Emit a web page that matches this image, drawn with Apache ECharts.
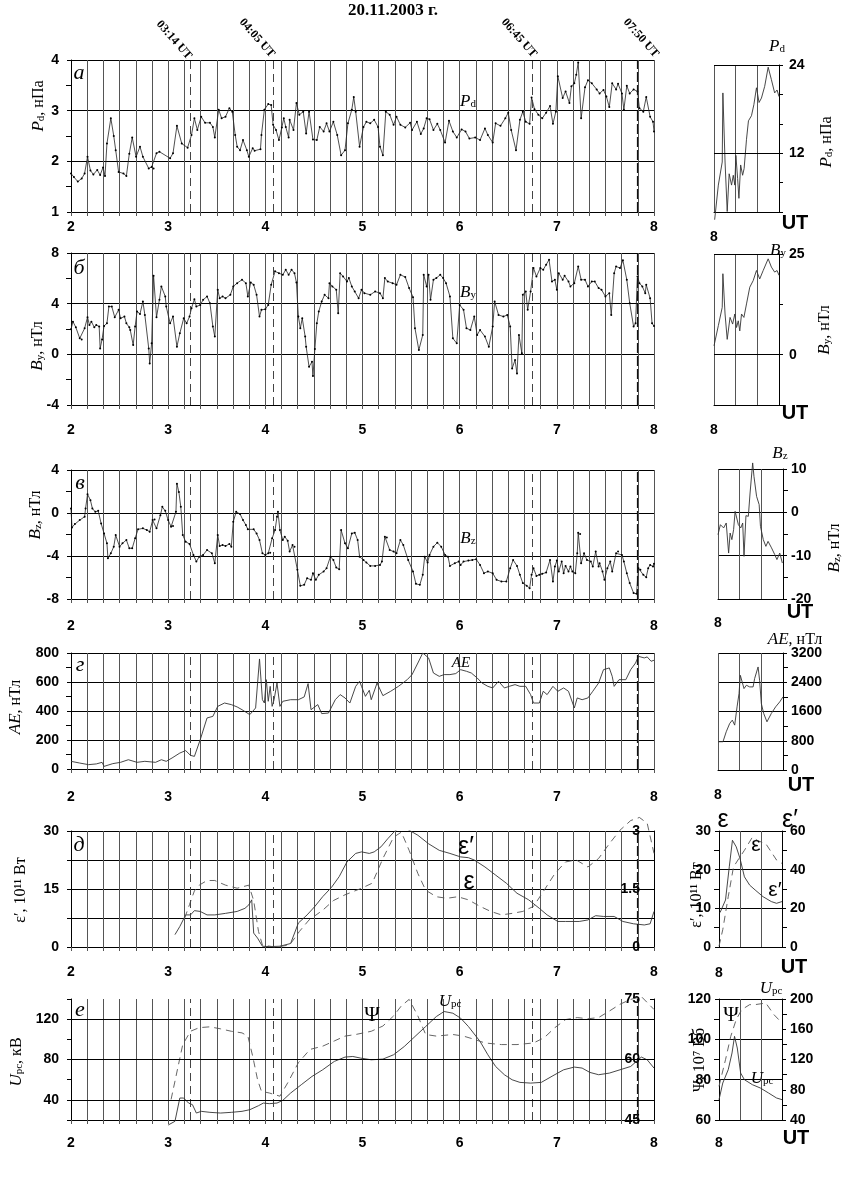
<!DOCTYPE html>
<html>
<head>
<meta charset="utf-8">
<script src="https://cdn.jsdelivr.net/npm/echarts@6/dist/echarts.min.js"></script>
<style>
html, body { margin: 0; padding: 0; background: #fff; }
#chart { width: 846px; height: 1182px; }
</style>
</head>
<body>
<div id="chart"></div>
<script>
// моменты событий (UT, ч)
const eventTimes = [3.233, 4.083, 6.75, 7.833]
const eventLabels = ['03:14 UT', '04:05 UT', '06:45 UT', '07:50 UT']

// Pd, нПа
const pdMain = [[2.00,1.76],[2.03,1.69],[2.07,1.60],[2.11,1.66],[2.14,1.76],[2.17,2.09],[2.20,1.82],[2.23,1.74],[2.27,1.83],[2.30,1.73],[2.33,1.88],[2.35,1.71],[2.37,2.35],[2.41,2.85],[2.44,2.50],[2.46,2.22],[2.49,1.79],[2.54,1.76],[2.57,1.71],[2.60,2.15],[2.63,2.47],[2.67,2.09],[2.71,2.29],[2.74,2.09],[2.80,1.86],[2.83,1.89],[2.85,1.86],[2.88,2.16],[2.91,2.19],[3.02,2.06],[3.05,2.16],[3.09,2.70],[3.14,2.35],[3.20,2.27],[3.24,2.52],[3.27,2.85],[3.30,2.62],[3.34,2.88],[3.38,2.76],[3.43,2.76],[3.46,2.68],[3.48,2.47],[3.52,3.02],[3.55,2.85],[3.59,2.88],[3.63,3.05],[3.66,2.98],[3.69,2.52],[3.71,2.29],[3.74,2.22],[3.77,2.42],[3.81,2.22],[3.83,2.09],[3.87,2.26],[3.89,2.21],[3.95,2.24],[3.96,2.52],[3.99,3.02],[4.03,3.13],[4.06,3.11],[4.08,2.72],[4.11,2.62],[4.14,2.42],[4.17,2.67],[4.19,2.85],[4.21,2.68],[4.24,2.47],[4.25,2.82],[4.29,2.62],[4.32,3.15],[4.35,2.92],[4.39,2.98],[4.42,2.55],[4.45,2.98],[4.49,2.43],[4.53,2.42],[4.56,2.68],[4.60,2.59],[4.63,2.75],[4.66,2.59],[4.70,2.78],[4.74,2.52],[4.78,2.12],[4.82,2.22],[4.85,2.75],[4.89,3.02],[4.91,3.27],[4.93,2.98],[4.97,2.29],[5.01,2.68],[5.04,2.78],[5.08,2.75],[5.12,2.82],[5.16,2.68],[5.18,2.29],[5.21,2.12],[5.24,2.98],[5.28,2.92],[5.32,2.72],[5.35,2.88],
  [5.39,2.72],[5.44,2.67],[5.49,2.76],[5.51,2.62],[5.56,2.78],[5.60,2.54],[5.63,2.65],[5.66,2.85],[5.69,2.83],[5.73,2.62],[5.77,2.74],[5.80,2.62],[5.85,2.37],[5.89,2.80],[5.93,2.59],[5.97,2.47],[6.02,2.63],[6.06,2.59],[6.10,2.45],[6.16,2.47],[6.21,2.42],[6.26,2.65],[6.29,2.52],[6.34,2.37],[6.37,2.75],[6.42,2.70],[6.47,2.85],[6.50,2.96],[6.53,2.62],[6.58,2.22],[6.62,2.82],[6.65,2.98],[6.68,2.78],[6.72,2.74],[6.74,3.26],[6.77,3.03],[6.81,2.92],[6.85,2.85],[6.89,2.96],[6.93,3.09],[6.96,2.74],[6.99,2.98],[7.01,3.68],[7.06,3.25],[7.09,3.38],[7.13,3.15],[7.15,3.48],[7.18,3.54],[7.20,3.71],[7.22,3.95],[7.25,2.85],[7.29,3.46],[7.32,3.60],[7.36,3.54],[7.41,3.42],[7.44,3.34],[7.48,3.41],[7.51,3.28],[7.54,3.07],[7.57,3.54],[7.61,3.42],[7.63,3.53],[7.67,3.34],[7.69,3.02],[7.72,3.49],[7.75,3.34],[7.79,3.42],[7.83,3.38],[7.85,3.05],[7.89,2.98],[7.92,3.27],[7.96,2.88],[7.99,2.78],[8.00,2.59]]
const pdNext = [[8.03,2.95],[8.20,7.66],[8.38,10.8],[8.41,20.2],[8.51,10.8],[8.61,4.07],[8.70,9.2],[8.81,7.66],[8.89,9.0],[8.96,7.66],[9.01,11.7],[9.09,8.55],[9.15,5.86],[9.23,10.4],[9.32,9.0],[9.39,9.9],[9.50,13.9],[9.59,16.4],[9.73,17.1],[9.84,18.6],[9.96,20.9],[10.08,18.9],[10.19,19.5],[10.34,21.1],[10.50,23.7],[10.65,22.0],[10.80,20.2],[10.91,20.6],[11.0,19.7]]

// By, нТл
const byMain = [[2.00,1.98],[2.02,2.58],[2.05,2.13],[2.09,1.26],[2.11,1.18],[2.14,2.05],[2.17,2.93],[2.19,2.32],[2.21,2.58],[2.24,2.13],[2.26,2.32],[2.29,2.19],[2.30,0.47],[2.32,1.18],[2.34,2.24],[2.37,2.45],[2.39,3.77],[2.42,3.77],[2.45,2.93],[2.49,3.51],[2.51,2.85],[2.55,2.98],[2.57,2.45],[2.60,2.13],[2.61,1.92],[2.64,0.73],[2.66,2.19],[2.68,3.38],[2.71,3.19],[2.74,4.17],[2.76,3.11],[2.80,0.47],[2.81,-0.72],[2.83,0.87],[2.85,6.2],[2.88,2.93],[2.91,4.3],[2.93,5.36],[2.97,4.57],[2.98,3.77],[3.02,2.45],[3.05,2.98],[3.09,0.6],[3.12,1.66],[3.16,2.85],[3.19,2.45],[3.22,2.98],[3.24,3.64],[3.27,4.35],[3.29,3.77],[3.33,3.9],[3.36,4.3],[3.40,4.57],[3.43,4.04],[3.46,2.19],[3.48,1.4],[3.51,5.1],[3.53,4.43],[3.56,4.57],[3.59,4.43],[3.64,4.7],[3.67,5.36],[3.71,5.62],[3.76,5.89],[3.80,5.62],[3.82,4.57],[3.85,5.67],[3.88,5.49],[3.91,4.7],[3.94,2.98],[3.96,3.51],[4.00,3.56],[4.03,3.9],[4.06,5.49],[4.10,6.55],[4.14,6.41],[4.18,6.28],[4.21,6.68],[4.24,6.28],[4.27,6.68],[4.30,6.41],[4.32,5.67],[4.34,2.98],[4.36,2.05],[4.38,2.85],[4.41,1.4],[4.42,0.6],[4.45,-0.98],[4.48,-0.59],[4.49,-1.72],[4.51,0.42],[4.53,2.45],[4.55,3.38],[4.58,4.17],[4.61,4.7],[4.65,4.43],[4.66,5.62],[4.69,5.36],[4.73,5.1],[4.75,3.24],[4.77,6.41],[4.80,6.15],[4.84,5.75],[4.86,6.02],[4.89,5.36],[4.92,4.96],[4.96,4.43],[4.99,5.1],[5.02,4.83],[5.08,4.7],[5.13,4.96],[5.18,4.83],[5.21,4.43],[5.23,6.02],[5.26,5.75],[5.31,5.62],[5.35,5.49],
  [5.39,6.28],[5.44,6.1],[5.48,5.23],[5.52,4.51],[5.54,2.06],[5.58,0.34],[5.62,1.53],[5.63,6.28],[5.66,5.36],[5.68,6.28],[5.70,4.3],[5.73,5.89],[5.76,6.02],[5.80,6.28],[5.83,6.02],[5.86,5.62],[5.90,4.57],[5.93,1.26],[5.97,0.87],[6.00,3.9],[6.04,3.51],[6.07,2.06],[6.11,1.92],[6.15,2.98],[6.18,1.53],[6.21,1.92],[6.26,1.4],[6.30,0.6],[6.34,2.19],[6.36,4.17],[6.40,3.11],[6.45,2.98],[6.49,3.11],[6.52,2.19],[6.54,-1.11],[6.57,-0.45],[6.59,-1.51],[6.61,1.53],[6.64,0.08],[6.65,4.7],[6.68,4.96],[6.70,3.51],[6.73,4.96],[6.76,6.81],[6.79,6.15],[6.83,6.81],[6.86,6.68],[6.89,7.08],[6.92,7.47],[6.95,5.75],[6.98,5.89],[7.00,5.1],[7.02,6.41],[7.06,5.89],[7.08,6.2],[7.12,5.75],[7.14,5.36],[7.18,5.62],[7.22,6.94],[7.25,5.89],[7.29,5.89],[7.32,5.36],[7.36,5.75],[7.39,5.75],[7.43,5.23],[7.46,5.1],[7.50,4.57],[7.54,4.83],[7.56,3.11],[7.59,6.41],[7.61,6.94],[7.65,6.81],[7.68,7.42],[7.72,5.89],[7.75,4.04],[7.79,2.19],[7.81,2.45],[7.83,6.15],[7.85,5.62],[7.88,5.36],[7.91,4.83],[7.92,5.49],[7.96,4.43],[7.98,2.45],[8.00,2.24]]
const byNext = [[8.0,2.2],[8.2,7.2],[8.38,11.75],[8.41,20.1],[8.51,10.1],[8.61,3.8],[8.74,9.25],[8.86,7.6],[8.96,10.1],[9.04,6.75],[9.12,8.4],[9.19,5.9],[9.27,10.1],[9.38,9.25],[9.50,12.6],[9.65,16.75],[9.81,18.4],[9.96,20.9],[10.11,18.8],[10.27,20.9],[10.50,23.8],[10.65,21.75],[10.80,20.5],[10.91,20.9],[11.0,19.7]]

// Bz, нТл
const bzMain = [[2.00,0.42],[2.01,-1.34],[2.04,-1.03],[2.09,-0.66],[2.14,-0.35],[2.15,0.42],[2.17,1.75],[2.20,1.19],[2.22,0.42],[2.25,0.11],[2.28,0.2],[2.31,-0.97],[2.34,-1.9],[2.37,-2.82],[2.38,-4.21],[2.41,-3.75],[2.44,-3.13],[2.46,-2.05],[2.50,-3.13],[2.53,-2.82],[2.57,-2.51],[2.60,-3.28],[2.63,-3.28],[2.66,-2.36],[2.69,-1.52],[2.74,-1.43],[2.78,-1.59],[2.81,-1.74],[2.84,-0.66],[2.86,-0.6],[2.88,-1.43],[2.92,-0.2],[2.94,0.57],[2.97,0.2],[3.00,-0.66],[3.03,-1.28],[3.05,-1.22],[3.08,0.11],[3.09,2.73],[3.11,1.96],[3.13,0.57],[3.15,-2.05],[3.18,-2.67],[3.22,-2.88],[3.26,-3.9],[3.29,-4.52],[3.32,-4.06],[3.36,-3.9],[3.40,-3.44],[3.45,-3.75],[3.48,-4.67],[3.51,-2.05],[3.53,-3.07],[3.56,-2.98],[3.59,-3.07],[3.63,-2.88],[3.65,-3.13],[3.67,-0.81],[3.70,0.11],[3.74,-0.1],[3.77,-0.66],[3.80,-1.12],[3.82,-1.52],[3.88,-1.52],[3.91,-1.9],[3.94,-2.51],[3.97,-3.75],[4.00,-3.9],[4.03,-3.75],[4.05,-3.69],[4.07,-2.36],[4.10,-1.59],[4.12,-0.35],[4.13,0.11],[4.15,-1.59],[4.18,-2.51],[4.20,-2.2],[4.23,-2.57],[4.25,-3.59],[4.28,-2.98],[4.30,-3.13],[4.33,-5.29],[4.36,-6.77],[4.40,-6.68],[4.43,-6.06],[4.47,-6.22],[4.49,-5.6],[4.52,-6.22],[4.55,-5.75],[4.60,-5.44],[4.63,-5.14],[4.67,-4.06],[4.70,-4.37],[4.73,-5.07],[4.76,-5.23],[4.78,-1.59],[4.82,-2.82],[4.85,-3.28],[4.89,-1.9],[4.92,-1.83],[4.95,-2.51],[4.97,-4.06],[5.01,-4.37],[5.04,-4.61],[5.08,-4.92],[5.13,-4.92],[5.18,-4.83],[5.20,-4.52],[5.23,-2.2],[5.25,-2.27],[5.28,-3.44],[5.32,-3.59],[5.35,-3.75],
  [5.39,-2.51],[5.42,-2.98],[5.47,-4.37],[5.52,-5.44],[5.55,-6.59],[5.59,-6.68],[5.62,-5.75],[5.64,-4.06],[5.67,-4.61],[5.69,-3.9],[5.73,-3.13],[5.77,-2.76],[5.81,-3.13],[5.85,-3.9],[5.88,-4.06],[5.90,-4.92],[5.95,-4.67],[5.99,-4.52],[6.01,-4.83],[6.04,-4.52],[6.09,-4.43],[6.13,-4.37],[6.17,-4.3],[6.21,-4.83],[6.25,-5.6],[6.29,-5.44],[6.34,-5.6],[6.38,-6.22],[6.43,-6.37],[6.48,-6.37],[6.52,-5.14],[6.55,-4.37],[6.59,-4.92],[6.62,-5.75],[6.65,-6.52],[6.69,-6.77],[6.72,-6.99],[6.74,-5.75],[6.76,-5.14],[6.79,-5.85],[6.82,-5.75],[6.85,-5.66],[6.89,-5.53],[6.93,-4.37],[6.96,-6.37],[6.98,-4.98],[7.00,-4.43],[7.02,-5.44],[7.05,-4.52],[7.07,-5.6],[7.09,-4.92],[7.12,-5.44],[7.14,-4.98],[7.16,-5.44],[7.19,-5.6],[7.21,-3.75],[7.22,-1.83],[7.24,-1.96],[7.25,-4.67],[7.28,-3.75],[7.31,-4.37],[7.35,-4.52],[7.37,-4.98],[7.40,-3.59],[7.43,-4.98],[7.44,-4.67],[7.47,-5.44],[7.49,-6.22],[7.52,-5.14],[7.55,-4.52],[7.57,-5.44],[7.61,-3.75],[7.63,-3.59],[7.67,-3.9],[7.69,-4.52],[7.72,-5.6],[7.75,-6.52],[7.79,-7.45],[7.82,-7.51],[7.84,-5.14],[7.86,-5.29],[7.89,-5.75],[7.92,-5.97],[7.94,-5.14],[7.96,-4.83],[7.99,-4.98],[8.00,-4.73]]
const bzNext = [[8.0,-5.15],[8.11,-2.85],[8.26,-3.6],[8.38,-2.46],[8.49,-9.4],[8.56,-4.77],[8.64,-6.3],[8.72,-4.0],[8.79,0.23],[8.94,-2.85],[9.05,-3.6],[9.14,-2.46],[9.20,-10.15],[9.29,-0.77],[9.40,-0.92],[9.48,4.46],[9.60,11.4],[9.66,8.3],[9.78,3.7],[9.90,1.77],[9.96,-3.23],[10.09,-6.3],[10.21,-7.85],[10.31,-6.7],[10.47,-8.2],[10.62,-9.77],[10.72,-10.9],[10.85,-9.4],[10.97,-11.7]]

// AE, нТл
const aeMain = [[2.00,53],[2.09,41],[2.18,30],[2.26,35],[2.32,46],[2.34,18],[2.43,37],[2.51,46],[2.59,64],[2.68,46],[2.76,53],[2.87,46],[2.93,64],[2.98,53],[3.04,76],[3.12,110],[3.18,127],[3.23,94],[3.27,87],[3.33,202],[3.40,352],[3.46,363],[3.51,432],[3.58,455],[3.65,444],[3.71,428],[3.76,409],[3.84,375],[3.90,421],[3.94,759],[3.97,478],[3.99,455],[4.01,616],[4.03,467],[4.05,570],[4.07,432],[4.09,478],[4.12,593],[4.15,432],[4.18,467],[4.26,478],[4.34,478],[4.40,497],[4.44,589],[4.47,409],[4.54,444],[4.58,382],[4.65,386],[4.72,478],[4.77,513],[4.82,490],[4.87,455],[4.93,570],[4.97,605],[4.99,570],[5.03,501],[5.07,543],[5.09,478],[5.15,593],[5.21,506],[5.29,536],[5.37,570],[5.46,616],[5.51,651],[5.57,731],[5.62,800],[5.68,766],[5.73,662],[5.79,639],[5.84,651],[5.90,651],[5.96,658],[6.01,685],[6.07,674],[6.12,662],[6.18,628],[6.23,593],[6.29,570],[6.34,559],[6.40,605],[6.46,559],[6.51,570],[6.57,582],[6.62,570],[6.68,570],[6.73,513],[6.76,455],[6.82,455],[6.86,536],[6.90,513],[6.96,570],[7.01,536],[7.07,559],[7.12,536],[7.18,421],[7.21,490],[7.26,478],[7.32,490],[7.37,536],[7.43,593],[7.48,685],[7.54,697],[7.57,639],[7.59,570],[7.64,616],[7.71,616],[7.76,685],[7.81,731],[7.84,777],[7.90,766],[7.93,773],[7.97,743],[8.00,750]]
const aeNext = [[8.0,773],[8.23,773],[8.38,1045],[8.54,1273],[8.66,1364],[8.77,1227],[8.88,1727],[8.97,2091],[9.03,2590],[9.12,2545],[9.20,2227],[9.31,2318],[9.46,2273],[9.62,2273],[9.69,2500],[9.85,2818],[9.92,2454],[10.0,1818],[10.11,1545],[10.26,1318],[10.46,1545],[10.66,1727],[10.85,1864],[10.92,1818],[11.0,2000]]

// ε′ (10^11 Вт) и ε
const epsPrime = [[3.07,3.2],[3.12,5.3],[3.18,8.3],[3.23,8.3],[3.27,9.4],[3.33,9.2],[3.40,8.3],[3.48,8.3],[3.59,8.7],[3.71,9.2],[3.79,10.0],[3.83,10.9],[3.86,12.2],[3.88,3.6],[3.92,2.3],[3.97,0.2],[4.04,0.1],[4.15,0.2],[4.26,0.9],[4.34,6.2],[4.43,8.3],[4.51,10.5],[4.59,13.0],[4.68,15.4],[4.76,18.2],[4.84,22.0],[4.93,24.2],[4.99,24.6],[5.07,24.2],[5.12,24.6],[5.19,25.9],[5.26,28.0],[5.34,30.2],[5.42,31.0],[5.48,30.2],[5.57,28.9],[5.68,26.7],[5.79,25.0],[5.90,24.2],[6.01,23.3],[6.09,23.1],[6.15,22.5],[6.26,20.7],[6.37,18.6],[6.48,16.5],[6.59,13.9],[6.71,12.2],[6.82,10.0],[6.90,8.3],[7.01,6.6],[7.09,6.6],[7.23,6.6],[7.32,7.0],[7.40,8.1],[7.48,7.9],[7.59,7.9],[7.68,6.6],[7.79,6.0],[7.90,5.7],[7.96,6.0],[8.00,9.2]]
const epsMain = [[3.17,0.75],[3.22,1.1],[3.27,1.45],[3.32,1.6],[3.40,1.72],[3.48,1.72],[3.59,1.6],[3.71,1.52],[3.83,1.6],[3.88,1.2],[3.93,0.4],[3.97,0.05],[4.10,0.0],[4.25,0.05],[4.35,0.4],[4.45,0.7],[4.59,0.95],[4.70,1.2],[4.82,1.35],[4.99,1.52],[5.10,1.65],[5.21,2.29],[5.32,2.84],[5.40,2.97],[5.48,2.5],[5.57,1.9],[5.65,1.47],[5.76,1.3],[5.87,1.26],[5.98,1.3],[6.09,1.22],[6.21,1.05],[6.32,0.92],[6.43,0.83],[6.54,0.87],[6.65,0.92],[6.76,1.05],[6.87,1.47],[6.98,1.9],[7.09,2.2],[7.20,2.25],[7.32,2.07],[7.43,2.29],[7.54,2.67],[7.65,3.02],[7.76,3.27],[7.85,3.35],[7.93,3.2],[8.00,2.42]]
const epsPrimeNext = [[8.05,17.8],[8.31,24.3],[8.49,41.5],[8.64,55.2],[8.82,51.8],[9.0,45.8],[9.21,36.3],[9.46,32],[9.72,29.5],[10.1,26],[10.49,23.5],[10.74,22.6],[11.0,23.5]]
const epsNext = [[8.0,0.2],[8.18,4.5],[8.44,13],[8.69,20.7],[8.95,22.9],[9.21,25],[9.59,28.4],[9.85,27.5],[10.23,26.7],[10.74,22.5],[11.0,21.6]]

// Upc, кВ и Ψ, 10^7 Вб
const upcMain = [[3.00,15],[3.07,18.7],[3.12,41.8],[3.16,41.8],[3.21,36.8],[3.25,35.2],[3.29,26.9],[3.34,28.6],[3.43,27.6],[3.54,26.9],[3.65,27.6],[3.76,28.6],[3.84,30.2],[3.93,34.2],[3.98,36.8],[4.04,36.2],[4.12,36.8],[4.18,39.5],[4.26,46.7],[4.37,55],[4.48,63.2],[4.59,69.8],[4.71,78.1],[4.82,82.4],[4.90,83],[4.98,81.4],[5.09,79.7],[5.21,80.4],[5.32,84.7],[5.43,92.9],[5.54,102.8],[5.65,112.7],[5.76,122.6],[5.84,127.6],[5.93,125.9],[6.01,121],[6.09,112.7],[6.21,97.9],[6.29,84.7],[6.37,73.1],[6.46,64.9],[6.54,59.9],[6.62,57.3],[6.73,56.6],[6.84,57.3],[6.96,63.9],[7.07,69.8],[7.18,72.5],[7.26,71.5],[7.34,67.2],[7.43,64.9],[7.54,66.5],[7.65,69.8],[7.76,73.1],[7.87,82.4],[7.93,79.7],[8.00,71.5]]
const psiMain = [[3.03,50.1],[3.15,63.7],[3.23,67.0],[3.32,67.9],[3.43,68.1],[3.54,67.6],[3.65,67.0],[3.76,66.6],[3.82,65.8],[3.87,60.8],[3.92,55.0],[3.96,52.1],[4.04,51.7],[4.15,50.9],[4.23,54.2],[4.34,59.2],[4.46,62.5],[4.59,63.3],[4.71,64.6],[4.82,65.8],[4.93,66.2],[5.09,67.0],[5.21,68.3],[5.32,70.8],[5.40,73.3],[5.48,74.9],[5.57,70.8],[5.65,66.2],[5.76,65.8],[5.93,66.2],[6.04,65.8],[6.15,65.0],[6.26,64.1],[6.43,63.7],[6.59,63.7],[6.76,64.1],[6.87,65.4],[6.98,67.9],[7.09,69.9],[7.21,70.4],[7.32,70.1],[7.43,70.4],[7.54,72.0],[7.65,73.7],[7.76,74.9],[7.87,75.6],[8.00,72.4]]
const upcNext = [[8.0,66.9],[8.18,88.9],[8.44,106.6],[8.62,128.6],[8.74,150.6],[8.87,135.2],[9.03,102.1],[9.21,93.3],[9.59,86.7],[9.97,82.3],[10.36,75.7],[10.74,69.1],[11.0,66.9]]
const psiNext = [[8.0,76.7],[8.31,89.9],[8.56,101.5],[8.82,109.8],[9.08,114.7],[9.46,117.2],[9.72,117.2],[10.23,118],[10.62,112.2],[11.0,108.1]]

const chart = echarts.init(document.getElementById('chart'))

const sans = '"Liberation Sans Narrow","Liberation Sans",Arial,sans-serif'
const serif = '"Liberation Serif","Times New Roman",serif'
const tickFont = { fontFamily: sans, fontWeight: 'bold', fontSize: 14, color: '#000' }
const vColor = '#555'

// сетки: 6 основных панелей и 6 узких справа
const grids = [
  { left: 71, width: 583, top: 60, height: 152 },
  { left: 71, width: 583, top: 253, height: 152 },
  { left: 71, width: 583, top: 470, height: 129 },
  { left: 71, width: 583, top: 653, height: 116 },
  { left: 71, width: 583, top: 831, height: 116 },
  { left: 71, width: 583, top: 999, height: 121 },
  { left: 714, width: 65, top: 65, height: 147 },
  { left: 714, width: 65, top: 254, height: 151 },
  { left: 718, width: 65, top: 469, height: 130 },
  { left: 718, width: 65, top: 653, height: 117 },
  { left: 719, width: 63, top: 831, height: 116 },
  { left: 719, width: 63, top: 999, height: 121 }
]

const mainMargins = [8, 18, 20, 21, 18, 16]
const smallMargins = [18, 18, 17, 18, 19, 16]

const xAxes = []
mainMargins.forEach((m, i) => {
  xAxes.push({
    gridIndex: i, type: 'value', min: 2, max: 8, interval: 1,
    axisLine: { show: true, onZero: false, lineStyle: { color: '#000' } },
    axisTick: { show: true, length: 4, lineStyle: { color: vColor } },
    minorTick: { show: true, splitNumber: 6, length: 4, lineStyle: { color: vColor } },
    splitLine: { show: true, lineStyle: { color: vColor, width: 1 } },
    minorSplitLine: { show: true, lineStyle: { color: vColor, width: 1 } },
    axisLabel: Object.assign({ margin: m }, tickFont)
  })
})
smallMargins.forEach((m, i) => {
  xAxes.push({
    gridIndex: 6 + i, type: 'value', min: 8, max: 11, interval: 1,
    axisLine: { show: true, onZero: false, lineStyle: { color: '#000' } },
    axisTick: { show: false },
    splitLine: { show: true, lineStyle: { color: vColor, width: 1 } },
    axisLabel: Object.assign({ margin: m, formatter: v => (v === 8 ? '8' : '') }, tickFont)
  })
})

function yAx(gi, min, max, interval, o) {
  o = o || {}
  return {
    gridIndex: gi, type: 'value', min, max, interval,
    position: o.position || 'left',
    axisLine: { show: true, onZero: false, lineStyle: { color: '#000' } },
    axisTick: { show: true, inside: !!o.inside, length: 4, lineStyle: { color: '#000' } },
    minorTick: { show: !!o.minor, splitNumber: o.minor || 2, length: 5, lineStyle: { color: '#000' } },
    splitLine: { show: o.split !== false, lineStyle: { color: '#000', width: 1 } },
    axisLabel: Object.assign({ margin: o.margin || 12, inside: !!o.inside, formatter: o.fmt || (v => String(v)) }, tickFont)
  }
}

const yAxes = [
  yAx(0, 1, 4, 1, { minor: 2 }),
  yAx(1, -4, 8, 4, { minor: 2 }),
  yAx(2, -8, 4, 4, { minor: 2 }),
  yAx(3, 0, 800, 200, { minor: 2 }),
  yAx(4, 0, 30, 7.5, { fmt: v => (v % 15 === 0 ? String(v) : '') }),
  yAx(4, 0, 3, 1.5, { position: 'right', inside: true, split: false, margin: 14 }),
  yAx(5, 20, 140, 20, { split: false, fmt: v => ([40, 80, 120].includes(v) ? String(v) : '') }),
  yAx(5, 45, 75, 15, { position: 'right', inside: true, split: false, margin: 14 }),
  yAx(6, 4, 24, 4, { position: 'right', split: false, margin: 10, fmt: v => (v === 12 || v === 24 ? String(v) : '') }),
  yAx(7, -12.5, 25, 12.5, { position: 'right', split: false, margin: 10, fmt: v => (v === 0 || v === 25 ? String(v) : '') }),
  yAx(8, -20, 10, 10, { position: 'right', minor: 2, margin: 8 }),
  yAx(9, 0, 3200, 800, { position: 'right', minor: 2, margin: 8 }),
  yAx(10, 0, 30, 10, { minor: 2, margin: 8 }),
  yAx(10, 0, 60, 20, { position: 'right', split: false, minor: 2, margin: 8 }),
  yAx(11, 60, 120, 20, { minor: 2, margin: 8 }),
  yAx(11, 40, 200, 40, { position: 'right', split: false, minor: 2, margin: 8 })
]

const eventLines = eventTimes.map((t, i) => ({
  xAxis: t,
  lineStyle: i === 3 ? { type: [10, 3], color: '#111', width: 1.2 } : { type: [8, 5], color: '#444', width: 1 }
}))

function mk(extra) {
  return {
    silent: true, symbol: 'none', label: { show: false },
    lineStyle: { color: '#000', width: 1, type: 'solid' },
    data: extra
  }
}

function ser(data, xi, yi, o) {
  o = o || {}
  const s = {
    type: 'line', data, xAxisIndex: xi, yAxisIndex: yi,
    symbol: o.dots ? 'circle' : 'none', symbolSize: 2, showSymbol: !!o.dots,
    lineStyle: { color: o.color || '#222', width: o.width || 0.9, type: o.dash ? [7, 5] : 'solid' },
    itemStyle: { color: '#000' },
    clip: o.clip !== false,
    z: 3
  }
  if (o.markLine) s.markLine = o.markLine
  return s
}

const series = [
  ser(pdMain, 0, 0, { dots: true, width: 0.8, markLine: mk(eventLines) }),
  ser(byMain, 1, 1, { dots: true, width: 0.8, markLine: mk(eventLines) }),
  ser(bzMain, 2, 2, { dots: true, width: 0.8, markLine: mk(eventLines) }),
  ser(aeMain, 3, 3, { color: '#333', markLine: mk(eventLines) }),
  ser(epsPrime, 4, 4, { color: '#333', markLine: mk(eventLines) }),
  ser(epsMain, 4, 5, { color: '#555', dash: true, clip: false }),
  ser(upcMain, 5, 6, { color: '#333', clip: false, markLine: mk(eventLines.concat([40, 80, 120].map(v => ({ yAxis: v })))) }),
  ser(psiMain, 5, 7, { color: '#555', dash: true, clip: false }),
  ser(pdNext, 6, 8, { color: '#333', clip: false, markLine: mk([{ yAxis: 12 }, { yAxis: 24 }]) }),
  ser(byNext, 7, 9, { color: '#333', markLine: mk([{ yAxis: 0 }, { yAxis: 25 }]) }),
  ser(bzNext, 8, 10, { color: '#333', clip: false }),
  ser(aeNext, 9, 11, { color: '#333' }),
  ser(epsPrimeNext, 10, 13, { color: '#333' }),
  ser(epsNext, 10, 12, { color: '#555', dash: true }),
  ser(upcNext, 11, 15, { color: '#333' }),
  ser(psiNext, 11, 14, { color: '#555', dash: true })
]

// подписи
const rich = {
  i: { fontFamily: serif, fontStyle: 'italic', fontSize: 17, lineHeight: 20, verticalAlign: 'bottom', fill: '#000' },
  s: { fontFamily: serif, fontSize: 11, lineHeight: 8, verticalAlign: 'bottom', fill: '#000' },
  n: { fontFamily: serif, fontSize: 16, lineHeight: 20, verticalAlign: 'bottom', fill: '#000' }
}
function rt(x, y, text, rot) {
  return { type: 'text', x, y, rotation: rot || 0, z: 10,
    style: { text, rich, align: 'center', verticalAlign: 'middle' } }
}
function tx(x, y, text, font, rot) {
  return { type: 'text', x, y, rotation: rot || 0, z: 10,
    style: Object.assign({ text, align: 'center', verticalAlign: 'middle', fill: '#000' }, font) }
}
const up = Math.PI / 2
const letterFont = { fontFamily: serif, fontStyle: 'italic', fontSize: 22 }
const epsFont = { fontFamily: '"Liberation Sans",Arial,sans-serif', fontSize: 25 }
const utFont = { fontFamily: '"Liberation Sans",Arial,sans-serif', fontWeight: 'bold', fontSize: 20 }
const evFont = { fontFamily: serif, fontWeight: 'bold', fontSize: 12 }

const graphic = [
  tx(393, 11, '20.11.2003 г.', { fontFamily: serif, fontWeight: 'bold', fontSize: 17 }),
  tx(174, 40, eventLabels[0], evFont, -0.85),
  tx(257, 38, eventLabels[1], evFont, -0.85),
  tx(519, 38, eventLabels[2], evFont, -0.85),
  tx(641, 38, eventLabels[3], evFont, -0.85),

  // буквы панелей
  tx(79, 73, 'а', letterFont), tx(79, 268, 'б', letterFont), tx(80, 483, 'в', letterFont),
  tx(80, 665, 'г', letterFont), tx(79, 845, 'д', letterFont), tx(80, 1010, 'е', letterFont),

  // названия осей слева
  rt(37, 106, '{i|P}{s|d}{n|, нПа}', up),
  rt(36, 346, '{i|B}{s|y}{n|, нТл}', up),
  rt(34, 515, '{i|B}{s|z}{n|, нТл}', up),
  rt(14, 707, '{i|AE}{n|, нТл}', up),
  tx(21, 890, 'ε′, 10¹¹ Вт', { fontFamily: serif, fontSize: 16 }, up),
  rt(15, 1062, '{i|U}{s|pc}{n|, кВ}', up),

  // подписи кривых
  rt(468, 100, '{i|P}{s|d}'),
  rt(468, 291, '{i|B}{s|y}'),
  rt(468, 537, '{i|B}{s|z}'),
  tx(461, 663, 'AE', { fontFamily: serif, fontStyle: 'italic', fontSize: 15 }),
  tx(466, 847, 'ε′', epsFont),
  tx(469, 882, 'ε', epsFont),
  tx(372, 1015, 'Ψ', { fontFamily: serif, fontSize: 21 }),
  rt(450, 1000, '{i|U}{s|pc}'),

  // узкие панели
  rt(777, 45, '{i|P}{s|d}'),
  rt(778, 249, '{i|B}{s|y}'),
  rt(780, 452, '{i|B}{s|z}'),
  rt(795, 638, '{i|AE}{n|, нТл}'),
  rt(825, 142, '{i|P}{s|d}{n|, нПа}', up),
  rt(823, 330, '{i|B}{s|y}{n|, нТл}', up),
  rt(833, 548, '{i|B}{s|z}{n|, нТл}', up),
  tx(723, 820, 'ε', epsFont),
  tx(790, 820, 'ε′', epsFont),
  tx(756, 845, 'ε', { fontFamily: '"Liberation Sans",Arial,sans-serif', fontSize: 21 }),
  tx(775, 890, 'ε′', { fontFamily: '"Liberation Sans",Arial,sans-serif', fontSize: 21 }),
  tx(697, 895, 'ε′, 10¹¹ Вт', { fontFamily: serif, fontSize: 16 }, up),
  tx(731, 1015, 'Ψ', { fontFamily: serif, fontSize: 21 }),
  rt(771, 987, '{i|U}{s|pc}'),
  rt(762, 1077, '{i|U}{s|pc}'),
  tx(700, 1060, 'Ψ, 10⁷ Вб', { fontFamily: serif, fontSize: 16 }, up),

  tx(795, 223, 'UT', utFont),
  tx(795, 413, 'UT', utFont),
  tx(800, 612, 'UT', utFont),
  tx(801, 785, 'UT', utFont),
  tx(794, 967, 'UT', utFont),
  tx(796, 1138, 'UT', utFont)
]

chart.setOption({
  animation: false,
  backgroundColor: '#fff',
  grid: grids,
  xAxis: xAxes,
  yAxis: yAxes,
  series,
  graphic
})
</script>
</body>
</html>
